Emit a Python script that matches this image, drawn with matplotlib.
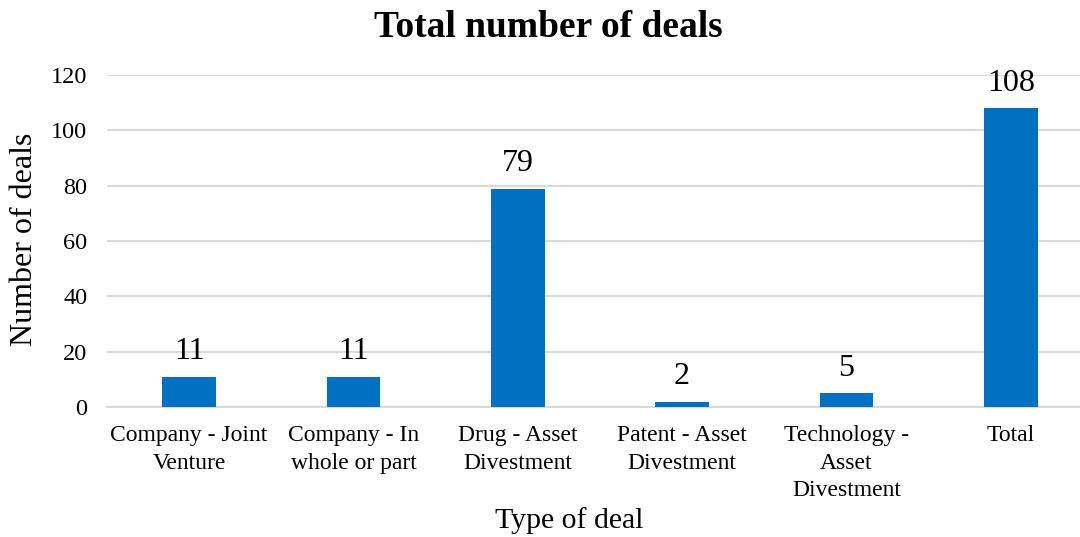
import matplotlib
matplotlib.use("Agg")
import matplotlib.pyplot as plt

categories = [
    "Company - Joint\nVenture",
    "Company - In\nwhole or part",
    "Drug - Asset\nDivestment",
    "Patent - Asset\nDivestment",
    "Technology -\nAsset\nDivestment",
    "Total",
]
deals = [11, 11, 79, 2, 5, 108]
y_ticks = [0, 20, 40, 60, 80, 100, 120]

plt.rcParams["font.family"] = ["Liberation Serif", "DejaVu Serif"]

W, H = 1080, 537
fig = plt.figure(figsize=(W / 100, H / 100), dpi=100)
ax = fig.add_axes([0.099, 0.242, 0.913, 0.618])

x = list(range(len(categories)))
bars = ax.bar(x, deals, width=0.326, color="#0070C0", zorder=3)

for rect, v in zip(bars, deals):
    ax.annotate(str(v), (rect.get_x() + rect.get_width() / 2, v),
                xytext=(0, 7.5), textcoords="offset points",
                ha="center", va="bottom", fontsize=23)

ax.set_xlim(-0.5, len(categories) - 0.5)
ax.set_ylim(0, 120)
ax.set_yticks(y_ticks)
ax.set_xticks(x)
ax.set_xticklabels(categories, fontsize=17, linespacing=1.4)
ax.tick_params(axis="y", labelsize=17.5, length=0, pad=14)
ax.tick_params(axis="x", length=0, pad=13)

ax.grid(axis="y", color="#D9D9D9", linewidth=1.5, zorder=0)
for side in ["top", "right", "left"]:
    ax.spines[side].set_visible(False)
ax.spines["bottom"].set_color("#D9D9D9")
ax.spines["bottom"].set_linewidth(1.5)

fig.text(25 / W, 1 - 239 / H, "Number of deals", rotation=90,
         ha="center", va="center", fontsize=23)
fig.text(569 / W, 1 - 521 / H, "Type of deal",
         ha="center", va="center", fontsize=21.5)
fig.text(548 / W, 1 - 28 / H, "Total number of deals", ha="center", va="center",
         fontsize=27, fontweight="bold")

fig.savefig("out.png", dpi=100)
